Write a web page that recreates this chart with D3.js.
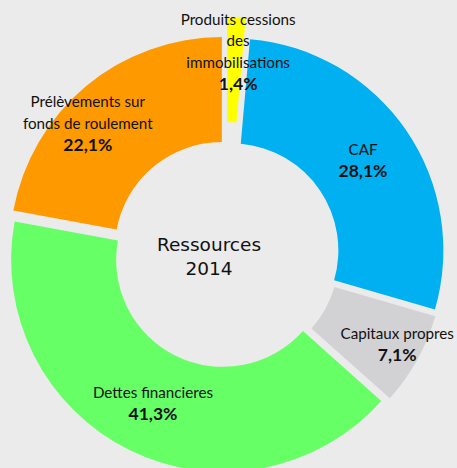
<!DOCTYPE html>
<html>
<head>
<meta charset="utf-8">
<script src="https://cdn.jsdelivr.net/npm/d3@7"></script>
<style>
  body { margin: 0; background: #ebebeb; }
  svg { display: block; }
</style>
</head>
<body>
<div id="chart"></div>
<script>
// slices, clockwise from 12 o'clock
const categories = ["Produits cessions des immobilisations", "CAF", "Capitaux propres", "Dettes financieres", "Prélèvements sur fonds de roulement"];
const values = [1.4, 28.1, 7.1, 41.3, 22.1];
const colors = ["#ffff00", "#00b0f0", "#d2d2d4", "#66ff66", "#ff9900"];
// how the label text is broken into lines
const labelLines = [
  ["Produits cessions", "des", "immobilisations"],
  ["CAF"],
  ["Capitaux propres"],
  ["Dettes financieres"],
  ["Prélèvements sur", "fonds de roulement"]
];
const centerTitle = ["Ressources", "2014"];

const w = 457, h = 468;
const cx = 226, cy = 254, rIn = 107, rOut = 212;

const fr = d3.formatLocale({decimal: ",", thousands: " ", grouping: [3], currency: ["", "€"]});
const fmt = fr.format(".1f");

const data = categories.map(function(c, i) {
  return {name: c, value: values[i], color: colors[i], lines: labelLines[i]};
});

// explosion per slice (yellow pulled out more), label nudges (dx, dy)
const explode = [25, 6.5, 6.5, 6.5, 6.5];
const nudge = [[4, -18], [0, 0], [26, 10], [0, 0], [-32, -3]];

const svg = d3.select("#chart").append("svg")
  .attr("width", w)
  .attr("height", h);

const g = svg.append("g")
  .attr("transform", "translate(" + cx + "," + cy + ")");

const pie = d3.pie().sort(null).value(function(d) { return d.value; });
const arc = d3.arc().innerRadius(rIn).outerRadius(rOut);
const labelArc = d3.arc().innerRadius((rIn + rOut) / 2).outerRadius((rIn + rOut) / 2);

const arcs = pie(data);

function shift(d, i) {
  let a = (d.startAngle + d.endAngle) / 2;
  return [Math.sin(a) * explode[i], -Math.cos(a) * explode[i]];
}

g.selectAll("path.slice")
  .data(arcs).enter()
  .append("path")
  .attr("class", "slice")
  .attr("transform", function(d, i) { return "translate(" + shift(d, i) + ")"; })
  .attr("d", arc)
  .attr("fill", function(d) { return d.data.color; });

// labels on top of every slice
const lineH = 21.5;
const labels = g.append("g");
arcs.forEach(function(d, i) {
  let p = labelArc.centroid(d);
  let s = shift(d, i);
  let lines = d.data.lines.concat([fmt(d.data.value) + "%"]);
  let x = p[0] + s[0] + nudge[i][0];
  let y0 = p[1] + s[1] + nudge[i][1] - (lines.length - 1) * lineH / 2;
  let t = labels.append("text")
    .attr("text-anchor", "middle")
    .attr("font-family", "Lato, 'Open Sans', sans-serif")
    .attr("fill", "#111");
  lines.forEach(function(l, j) {
    let last = j == lines.length - 1;
    t.append("tspan")
      .attr("x", x)
      .attr("y", y0 + j * lineH)
      .attr("dy", "0.35em")
      .attr("font-size", last ? 17.5 : 15.2)
      .attr("font-weight", last ? "bold" : "normal")
      .text(l);
  });
});

// center title
svg.append("text")
  .attr("text-anchor", "middle")
  .attr("font-family", "'DejaVu Sans', sans-serif")
  .attr("font-size", 18.5)
  .attr("fill", "#111")
  .selectAll("tspan")
  .data(centerTitle).enter()
  .append("tspan")
  .attr("x", 209)
  .attr("y", function(d, i) { return 245 + i * 24; })
  .attr("dy", "0.35em")
  .text(function(d) { return d; });
</script>
</body>
</html>
